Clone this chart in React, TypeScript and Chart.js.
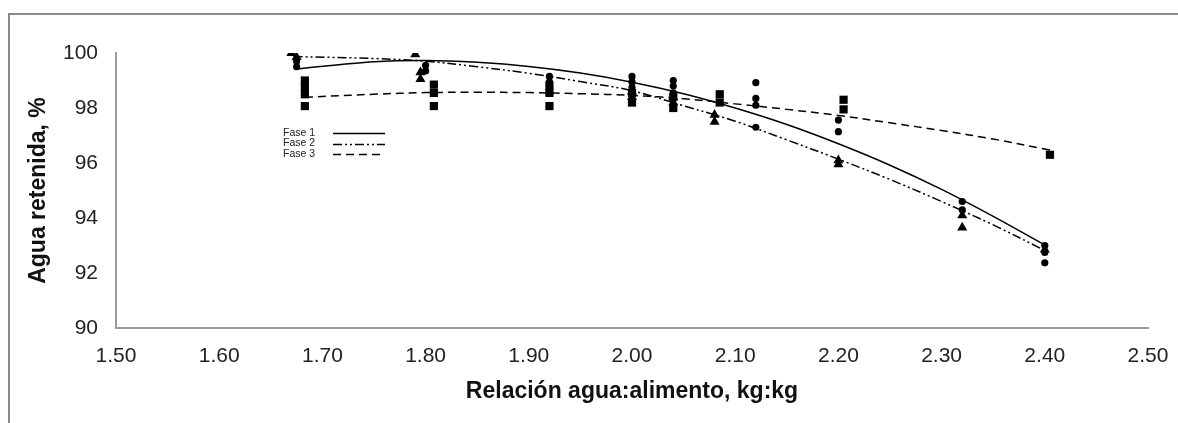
import React, { useEffect, useRef } from 'react';
import { Chart, registerables } from 'chart.js';

Chart.register(...registerables);

// ---- Axis settings ----
const xMin = 1.5;
const xMax = 2.5;
const xStep = 0.1;
const yMin = 90;
const yMax = 100;
const yStep = 2;
const xTitle = 'Relación agua:alimento, kg:kg';
const yTitle = 'Agua retenida, %';
const legendLabels = ['Fase 1', 'Fase 2', 'Fase 3'];

const fase1PointX = [1.675, 1.675, 1.8, 1.8, 1.92, 1.92, 2.0, 2.0, 2.0, 2.04, 2.04, 2.04, 2.12, 2.12, 2.12, 2.12, 2.2, 2.2, 2.32, 2.32, 2.4, 2.4, 2.4];
const fase1PointY = [99.7, 99.5, 99.55, 99.35, 99.15, 98.95, 99.15, 98.95, 98.75, 99.0, 98.8, 98.55, 98.92, 98.35, 98.1, 97.3, 97.56, 97.14, 94.6, 94.3, 93.0, 92.75, 92.37];

const fase2PointX = [1.67, 1.675, 1.79, 1.795, 1.795, 2.0, 2.0, 2.04, 2.04, 2.08, 2.08, 2.2, 2.2, 2.32, 2.32, 2.4];
const fase2PointY = [100.0, 99.85, 99.95, 99.3, 99.05, 98.6, 98.4, 98.4, 98.2, 97.75, 97.5, 96.1, 95.95, 94.1, 93.65, 92.85];

const fase3PointX = [1.683, 1.683, 1.683, 1.683, 1.808, 1.808, 1.808, 1.92, 1.92, 1.92, 2.0, 2.0, 2.04, 2.04, 2.085, 2.085, 2.205, 2.205, 2.405];
const fase3PointY = [99.0, 98.75, 98.5, 98.07, 98.85, 98.55, 98.07, 98.82, 98.55, 98.07, 98.55, 98.2, 98.4, 98.0, 98.5, 98.2, 98.3, 97.95, 96.3];

// ---- Fitted trend curves ----
const fase1CurveX = [1.675, 1.75, 1.8, 1.85, 1.9, 1.95, 2.0, 2.05, 2.1, 2.15, 2.2, 2.25, 2.3, 2.35, 2.4];
const fase1CurveY = [99.42, 99.68, 99.73, 99.66, 99.51, 99.27, 98.94, 98.52, 98.0, 97.4, 96.7, 95.92, 95.04, 94.06, 93.02];

const fase2CurveX = [1.672, 1.75, 1.8, 1.85, 1.9, 1.95, 2.0, 2.05, 2.1, 2.15, 2.2, 2.25, 2.3, 2.35, 2.4];
const fase2CurveY = [99.87, 99.8, 99.7, 99.5, 99.26, 98.96, 98.63, 98.08, 97.52, 96.84, 96.14, 95.4, 94.6, 93.75, 92.82];

const fase3CurveX = [1.683, 1.75, 1.8, 1.85, 1.9, 1.95, 2.0, 2.05, 2.1, 2.15, 2.2, 2.25, 2.3, 2.35, 2.405];
const fase3CurveY = [98.39, 98.5, 98.56, 98.57, 98.56, 98.52, 98.46, 98.34, 98.15, 97.95, 97.73, 97.46, 97.18, 96.87, 96.47];

const pts = (xs: number[], ys: number[]) => xs.map((x, i) => ({ x, y: ys[i] }));

const lineStyles: number[][] = [[], [9, 3, 2, 3, 2, 3], [8, 5]];

const frameBorderPlugin = {
  id: 'frameBorder',
  beforeDraw(chart: any) {
    const ctx = chart.ctx;
    ctx.save();
    ctx.fillStyle = '#ffffff';
    ctx.fillRect(0, 0, chart.width, chart.height);
    ctx.strokeStyle = '#8a8a8a';
    ctx.lineWidth = 2;
    ctx.beginPath();
    ctx.moveTo(9, chart.height);
    ctx.lineTo(9, 14);
    ctx.lineTo(chart.width, 14);
    ctx.stroke();
    ctx.restore();
  },
};

const innerLegendPlugin = {
  id: 'innerLegend',
  afterDatasetsDraw(chart: any) {
    const ctx = chart.ctx;
    const area = chart.chartArea;
    const textX = area.left + 167;
    const lineX0 = area.left + 217;
    const lineX1 = area.left + 269;
    const y0 = area.top + 80;
    const rowH = 10.5;
    ctx.save();
    ctx.font = '10.5px "Liberation Sans", Arial, sans-serif';
    ctx.fillStyle = '#222';
    ctx.textBaseline = 'middle';
    ctx.textAlign = 'left';
    legendLabels.forEach((label, i) => {
      const y = y0 + i * rowH;
      ctx.fillText(label, textX, y);
      ctx.beginPath();
      ctx.setLineDash(lineStyles[i]);
      ctx.strokeStyle = '#000';
      ctx.lineWidth = 1.3;
      ctx.moveTo(lineX0, Math.round(y) + 0.5);
      ctx.lineTo(lineX1, Math.round(y) + 0.5);
      ctx.stroke();
    });
    ctx.restore();
  },
};

export default function App() {
  const canvasRef = useRef<HTMLCanvasElement | null>(null);

  useEffect(() => {
    if (!canvasRef.current) return;
    const curveCommon = {
      showLine: true,
      pointRadius: 0,
      pointHoverRadius: 0,
      borderColor: '#000',
      borderWidth: 1.5,
      tension: 0.35,
      fill: false,
    };
    const chart = new Chart(canvasRef.current, {
      type: 'scatter',
      data: {
        datasets: [
          {
            label: legendLabels[0] + ' obs',
            data: pts(fase1PointX, fase1PointY),
            pointStyle: 'circle',
            pointRadius: 3.6,
            backgroundColor: '#000',
            borderColor: '#000',
            borderWidth: 0,
          },
          {
            label: legendLabels[1] + ' obs',
            data: pts(fase2PointX, fase2PointY),
            pointStyle: 'triangle',
            pointRadius: 5.8,
            backgroundColor: '#000',
            borderColor: '#000',
            borderWidth: 0,
          },
          {
            label: legendLabels[2] + ' obs',
            data: pts(fase3PointX, fase3PointY),
            pointStyle: 'rect',
            pointRadius: 5.8,
            backgroundColor: '#000',
            borderColor: '#000',
            borderWidth: 0,
          },
          { ...curveCommon, label: legendLabels[0], data: pts(fase1CurveX, fase1CurveY), borderDash: lineStyles[0] },
          { ...curveCommon, label: legendLabels[1], data: pts(fase2CurveX, fase2CurveY), borderDash: lineStyles[1] },
          { ...curveCommon, label: legendLabels[2], data: pts(fase3CurveX, fase3CurveY), borderDash: lineStyles[2] },
        ],
      },
      options: {
        animation: false,
        responsive: false,
        maintainAspectRatio: false,
        events: [],
        layout: { padding: { left: 0, right: 30, top: 53, bottom: 0 } },
        plugins: {
          legend: { display: false },
          tooltip: { enabled: false },
          title: { display: false },
        },
        scales: {
          x: {
            type: 'linear',
            min: xMin,
            max: xMax,
            afterFit: (scale: any) => {
              scale.height = 95;
              scale.paddingLeft = 0;
              scale.paddingRight = 0;
            },
            ticks: {
              stepSize: xStep,
              padding: 16,
              color: '#222',
              font: { family: '"Liberation Sans", Arial, sans-serif', size: 21 },
              callback: (v: any) => Number(v).toFixed(2),
              maxRotation: 0,
              autoSkip: false,
            },
            grid: { display: false, drawTicks: false },
            border: { display: true, color: '#9a9a9a', width: 2 },
            title: {
              display: true,
              text: xTitle,
              color: '#111',
              font: { family: '"Liberation Sans", Arial, sans-serif', size: 23, weight: 'bold' },
              padding: { top: 0, bottom: 18 },
            },
          },
          y: {
            type: 'linear',
            min: yMin,
            max: yMax,
            afterFit: (scale: any) => {
              scale.width = 116;
            },
            ticks: {
              stepSize: yStep,
              padding: 18,
              color: '#222',
              font: { family: '"Liberation Sans", Arial, sans-serif', size: 21 },
            },
            grid: { display: false, drawTicks: false },
            border: { display: true, color: '#9a9a9a', width: 2 },
            title: {
              display: true,
              text: yTitle,
              color: '#111',
              font: { family: '"Liberation Sans", Arial, sans-serif', size: 23, weight: 'bold' },
              padding: { top: 25, bottom: 0 },
            },
          },
        },
      },
      plugins: [frameBorderPlugin, innerLegendPlugin],
    });
    return () => chart.destroy();
  }, []);

  return (
    <div style={{ position: 'absolute', left: 0, top: 0, width: 1178, height: 423 }}>
      <canvas ref={canvasRef} width={1178} height={423} style={{ display: 'block', width: 1178, height: 423 }} />
    </div>
  );
}
